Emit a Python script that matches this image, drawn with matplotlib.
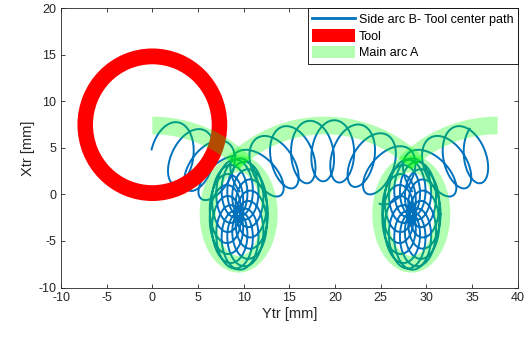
import numpy as np
import matplotlib.pyplot as plt
from matplotlib.patches import Wedge, Patch
from matplotlib.lines import Line2D

plt.rcParams['font.family'] = ['Liberation Sans', 'DejaVu Sans']
plt.rcParams['axes.unicode_minus'] = False

# Tool (red ring)
tool_center = (0.0, 7.5)
tool_r_out = 8.2
tool_r_in = 6.5

# Main arc A: three equal arcs, peaks at these Ytr positions
arc_peak_x = [0.0, 18.9, 37.8]
arc_center_y = -7.13
band_radius = 14.55
band_half_width = 0.95
band_start_deg = [0, -44, -44]
band_end_deg = [44, 44, 0]

# side arc B loops along the arcs
loop_radius = 11.85
loop_start_deg = [8.0, -43, -43]
loop_end_deg = [43, 43, -8.0]
loop_pitch = 2.3
loop_rx = 1.75
loop_ry = 3.3

# ovals at the two nodes
oval_x = [9.45, 28.35]
oval_y = -2.1
oval_base = (1.5, 2.9)
oval_r = (1.7, 3.1)
oval_turns = 2
oval_loops = 15
ring_outer = (4.27, 6.3)
ring_inner = (2.5, 4.5)

blue = (0, 0.447, 0.741)


def arc_loops(px, th0, th1):
    t0, t1 = np.radians(th0), np.radians(th1)
    turns = loop_radius * (t1 - t0) / loop_pitch
    phi = np.linspace(np.pi, np.pi + 2 * np.pi * turns, 3000)
    th = t0 + (t1 - t0) * (phi - phi[0]) / (phi[-1] - phi[0])
    cx = px + loop_radius * np.sin(th)
    cy = arc_center_y + loop_radius * np.cos(th)
    # forward sweep on top of the loop, small backward U at the bottom
    u = loop_rx * np.cos(phi)
    v = -loop_ry * np.sin(phi)
    x = cx + u * np.cos(th) + v * np.sin(th)
    y = cy - u * np.sin(th) + v * np.cos(th)
    return x, y


def oval_path(ox):
    t = np.linspace(0, 2 * np.pi * oval_turns, 5000)
    k = oval_loops / oval_turns
    x = ox + oval_base[0] * np.cos(t) + oval_r[0] * np.cos(k * t)
    y = oval_y + oval_base[1] * np.sin(t) + oval_r[1] * np.sin(k * t)
    return x, y


def band(px, th0, th1):
    th = np.radians(np.linspace(th0, th1, 200))
    ro = band_radius + band_half_width
    ri = band_radius - band_half_width
    xo = px + ro * np.sin(th)
    yo = arc_center_y + ro * np.cos(th)
    xi = px + ri * np.sin(th[::-1])
    yi = arc_center_y + ri * np.cos(th[::-1])
    return np.r_[xo, xi], np.r_[yo, yi]


def ring(ox):
    t = np.linspace(0, 2 * np.pi, 300)
    xo = ox + ring_outer[0] * np.cos(t)
    yo = oval_y + ring_outer[1] * np.sin(t)
    xi = ox + ring_inner[0] * np.cos(t[::-1])
    yi = oval_y + ring_inner[1] * np.sin(t[::-1])
    return np.r_[xo, xi], np.r_[yo, yi]


fig = plt.figure(figsize=(5.31, 3.38), dpi=100)
ax = fig.add_axes([0.1149, 0.1494, 0.8601, 0.8255])

# tool center path
for px, a0, a1 in zip(arc_peak_x, loop_start_deg, loop_end_deg):
    x, y = arc_loops(px, a0, a1)
    ax.plot(x, y, color=blue, lw=1.4, zorder=2)
for ox in oval_x:
    x, y = oval_path(ox)
    ax.plot(x, y, color=blue, lw=1.4, zorder=2)

# tool
ax.add_patch(Wedge(tool_center, tool_r_out, 0, 360, width=tool_r_out - tool_r_in,
                   facecolor='red', edgecolor='none', zorder=3))

# main arc A
for px, a0, a1 in zip(arc_peak_x, band_start_deg, band_end_deg):
    x, y = band(px, a0, a1)
    ax.fill(x, y, color=(0, 1, 0), alpha=0.3, lw=0, zorder=4)
for ox in oval_x:
    x, y = ring(ox)
    ax.fill(x, y, color=(0, 1, 0), alpha=0.3, lw=0, zorder=4)

ax.set_xlim(-10, 40)
ax.set_ylim(-10, 20)
ax.set_xticks(np.arange(-10, 41, 5))
ax.set_yticks(np.arange(-10, 21, 5))
gray = (0.15, 0.15, 0.15)
ax.tick_params(direction='in', top=True, right=True, length=3, width=0.6,
               labelsize=9, colors=gray)
for s in ax.spines.values():
    s.set_linewidth(0.6)
    s.set_color(gray)
ax.set_xlabel('Ytr [mm]', fontsize=10.5, color=gray, labelpad=2)
ax.set_ylabel('Xtr [mm]', fontsize=10.5, color=gray, labelpad=2)

handles = [Line2D([], [], color=blue, lw=2),
           Patch(facecolor='red', edgecolor='none'),
           Patch(facecolor=(0, 1, 0), alpha=0.3, edgecolor='none')]
labels = ['Side arc B- Tool center path', 'Tool', 'Main arc A']
leg = ax.legend(handles, labels, loc='upper right', fontsize=9, borderaxespad=0,
                fancybox=False, framealpha=1, edgecolor='black', handlelength=3.4,
                handleheight=1.15, handletextpad=0.3, labelspacing=0.25,
                borderpad=0.35)
leg.get_frame().set_linewidth(0.6)
leg.set_zorder(10)

fig.savefig('out.png', dpi=100)
